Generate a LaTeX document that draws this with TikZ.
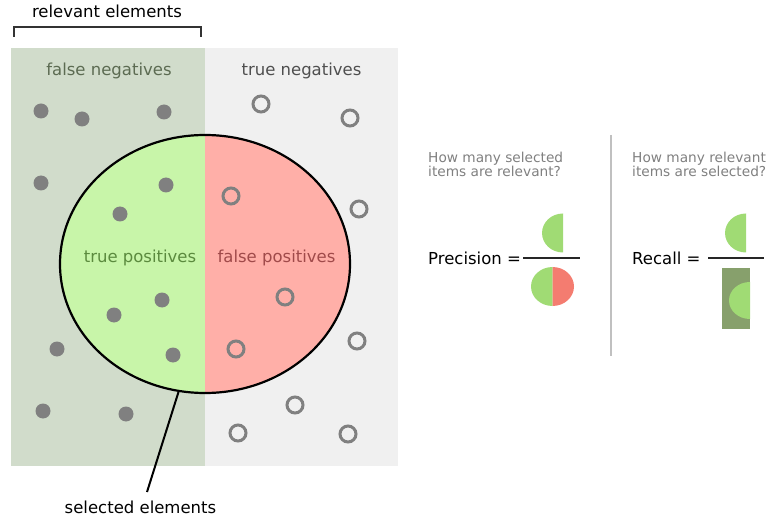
\documentclass[tikz,border=0pt]{standalone}
\usepackage{fontspec}
\setmainfont{DejaVu Sans}
\usetikzlibrary{shapes.geometric}
\definecolor{fnbg}{HTML}{D1DCCB}
\definecolor{tnbg}{HTML}{F0F0F0}
\definecolor{tpfill}{HTML}{C8F5A9}
\definecolor{fpfill}{HTML}{FFAFA8}
\definecolor{fntext}{HTML}{5C6B52}
\definecolor{tntext}{HTML}{4F4F4F}
\definecolor{tptext}{HTML}{5B8A3E}
\definecolor{fptext}{HTML}{A04A4A}
\definecolor{dotgray}{HTML}{808080}
\definecolor{pgreen}{HTML}{A0DB74}
\definecolor{pred}{HTML}{F47C70}
\definecolor{rdark}{HTML}{87A06C}
\definecolor{sepgray}{HTML}{C0C0C0}
\tikzset{
  big/.style={font=\fontsize{16.5}{20}\selectfont, inner sep=0pt, anchor=base},
  small/.style={font=\fontsize{13.7}{14}\selectfont, text=dotgray, inner sep=0pt, anchor=base west, align=left},
  fulldot/.style={circle, fill=dotgray, minimum size=15pt, inner sep=0pt},
  opendot/.style={circle, draw=dotgray, line width=3pt, minimum size=16pt, inner sep=0pt},
}
\begin{document}
\begin{tikzpicture}[x=1pt,y=-1pt]
\useasboundingbox (0,0) rectangle (768,521);
% backgrounds
\fill[fnbg] (11,48) rectangle (205,466);
\fill[tnbg] (205,48) rectangle (398,466);
% selected ellipse halves
\begin{scope}
\clip (205,264) ellipse[x radius=145, y radius=129];
\fill[tpfill] (50,120) rectangle (205,400);
\fill[fpfill] (205,120) rectangle (360,400);
\end{scope}
\node[ellipse, draw=black, line width=2.2pt, minimum width=290pt, minimum height=258pt, inner sep=0pt] (sel) at (205,264) {};
% bracket
\draw[line width=2.2pt, color=black!80] (14,37) -- (14,27) -- (201,27) -- (201,37);
\node[big] (rel) at (107,18) {relevant elements};
% region labels
\node[big, text=fntext] (fn) at (109,76) {false negatives};
\node[big, text=tntext] (tn) at (301.5,76) {true negatives};
\node[big, text=tptext] (tp) at (140,263) {true positives};
\node[big, text=fptext] (fp) at (276.5,263) {false positives};
% dots
\node[fulldot] (a1) at (41,111) {};
\node[fulldot] (a2) at (82,119) {};
\node[fulldot] (a3) at (164,112) {};
\node[fulldot] (a4) at (41,183) {};
\node[fulldot] (a5) at (166,185) {};
\node[fulldot] (a6) at (120,214) {};
\node[fulldot] (a7) at (162,300) {};
\node[fulldot] (a8) at (114,315) {};
\node[fulldot] (a9) at (57,349) {};
\node[fulldot] (a10) at (173,355) {};
\node[fulldot] (a11) at (43,411) {};
\node[fulldot] (a12) at (126,414) {};
\node[opendot] (b1) at (261,104) {};
\node[opendot] (b2) at (350,118) {};
\node[opendot] (b3) at (231,196) {};
\node[opendot] (b4) at (359,209) {};
\node[opendot] (b5) at (285,297) {};
\node[opendot] (b6) at (236,349) {};
\node[opendot] (b7) at (357,341) {};
\node[opendot] (b8) at (295,405) {};
\node[opendot] (b9) at (238,433) {};
\node[opendot] (b10) at (348,434) {};
% selected elements pointer
\coordinate (selpt) at (178.5,392);
\coordinate (labtop) at (147,492);
\node[big] (sl) at (140.5,513) {selected elements};
\draw[line width=2pt] (selpt) -- (labtop);
% separator
\draw[sepgray, line width=2.5pt] (611,135) -- (611,356);
% precision
\node[small] (q1) at (428,163) {How many selected};
\node[small] (q1b) at (428,177) {items are relevant?};
\node[big, anchor=base west] (prec) at (428,265) {Precision =};
\draw[line width=1.5pt, black!85] (523,258) -- (580,258);
\begin{scope}
\clip (530,210) rectangle (563,256);
\fill[pgreen] (563,233) ellipse[x radius=21, y radius=19.5];
\end{scope}
\begin{scope}
\clip (528,264) rectangle (552.5,310);
\fill[pgreen] (552.5,286.5) ellipse[x radius=21.5, y radius=19.5];
\end{scope}
\begin{scope}
\clip (552.5,264) rectangle (578,310);
\fill[pred] (552.5,286.5) ellipse[x radius=21.5, y radius=19.5];
\end{scope}
% recall
\node[small] (q2) at (632,163) {How many relevant};
\node[small] (q2b) at (632,177) {items are selected?};
\node[big, anchor=base west] (rec) at (632,265) {Recall =};
\draw[line width=1.5pt, black!85] (708,258) -- (764,258);
\begin{scope}
\clip (715,210) rectangle (746,256);
\fill[pgreen] (746,233) ellipse[x radius=21, y radius=19.5];
\end{scope}
\fill[rdark] (722,268) rectangle (750,329);
\begin{scope}
\clip (722,268) rectangle (750,329);
\fill[pgreen] (750,300.5) ellipse[x radius=21, y radius=18.5];
\end{scope}
\end{tikzpicture}
\end{document}
